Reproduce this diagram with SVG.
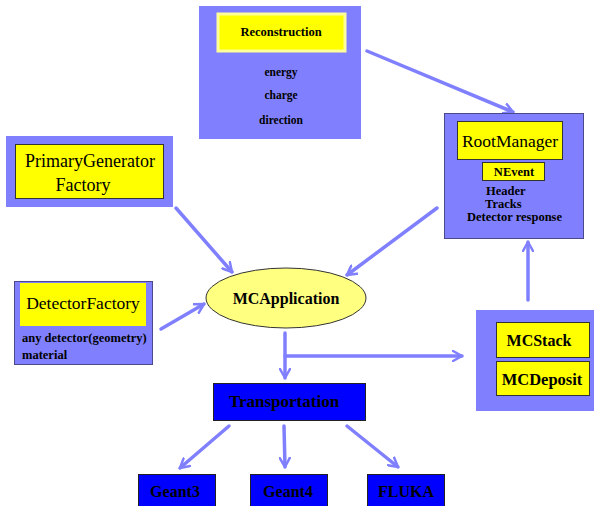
<svg xmlns="http://www.w3.org/2000/svg" width="594" height="506" viewBox="0 0 594 506">
<defs>
<style>
.outer{fill:#8080ff;stroke:#4a4a8c;stroke-width:1}
.outerL{fill:#8080ff;stroke:none}
.yel{fill:#ffff00;stroke:#333;stroke-width:1}
.yelL{fill:#ffff00;stroke:#ffff99;stroke-width:3}
.yelN{fill:#ffff00;stroke:none}
.blue{fill:#0000ff;stroke:#222;stroke-width:1}
.t{font-family:"Liberation Serif","Times New Roman",serif;font-weight:bold;fill:#000;text-anchor:middle}
.tl{font-family:"Liberation Serif","Times New Roman",serif;font-weight:bold;fill:#000}
.tn{font-family:"Liberation Serif","Times New Roman",serif;fill:#000;text-anchor:middle}
.c{stroke:#8080ff;stroke-width:3.5;fill:none;stroke-linecap:round}
</style>
<marker id="ah" viewBox="0 0 12 12" refX="10" refY="6" markerWidth="12" markerHeight="12" markerUnits="userSpaceOnUse" orient="auto">
<path d="M1,1 L10,6 L1,11" fill="none" stroke="#8080ff" stroke-width="2.5" stroke-linecap="round" stroke-linejoin="round"/>
</marker>
</defs>
<rect width="594" height="506" fill="#fff"/>

<g id="connectors">
<line class="c" x1="367" y1="51" x2="513" y2="112" marker-end="url(#ah)"/>
<line class="c" x1="437" y1="208" x2="347" y2="275" marker-end="url(#ah)"/>
<line class="c" x1="176" y1="208" x2="232" y2="272" marker-end="url(#ah)"/>
<line class="c" x1="161" y1="329" x2="204" y2="304" marker-end="url(#ah)"/>
<line class="c" x1="285" y1="333" x2="285" y2="378" marker-end="url(#ah)"/>
<line class="c" x1="285" y1="356" x2="462" y2="356" marker-end="url(#ah)"/>
<line class="c" x1="528" y1="300" x2="528" y2="242" marker-end="url(#ah)"/>
<line class="c" x1="229" y1="426" x2="180" y2="468" marker-end="url(#ah)"/>
<line class="c" x1="284" y1="426" x2="285" y2="467" marker-end="url(#ah)"/>
<line class="c" x1="347" y1="426" x2="398" y2="467" marker-end="url(#ah)"/>
</g>

<g id="reconstruction">
<rect class="outerL" x="199" y="6" width="162" height="133"/>
<rect class="yelL" x="218" y="14" width="127" height="37"/>
<text class="t" x="281" y="36" font-size="12.5">Reconstruction</text>
<text class="t" x="281" y="76" font-size="11.5">energy</text>
<text class="t" x="281" y="99" font-size="11.5">charge</text>
<text class="t" x="281" y="124" font-size="11.5">direction</text>
</g>

<g id="rootmanager">
<rect class="outer" x="444.5" y="113.5" width="139" height="125"/>
<rect class="yel" x="457.5" y="121.5" width="105" height="38"/>
<text class="tn" x="510" y="147" font-size="17.5">RootManager</text>
<rect class="yel" x="482.5" y="162.5" width="62" height="18"/>
<text class="t" x="514" y="176" font-size="12.5">NEvent</text>
<text class="tl" x="486" y="195" font-size="12.5">Header</text>
<text class="tl" x="485" y="208" font-size="12.5">Tracks</text>
<text class="tl" x="467" y="221" font-size="12.5">Detector response</text>
</g>

<g id="primarygenerator">
<rect class="outerL" x="6" y="136" width="167" height="71"/>
<rect class="yel" x="15.5" y="144.5" width="148" height="54" stroke="#777"/>
<text class="tn" x="90" y="167" font-size="18">PrimaryGenerator</text>
<text class="tn" x="83" y="191" font-size="18">Factory</text>
</g>

<g id="detectorfactory">
<rect class="outer" x="14.5" y="281.5" width="138" height="83"/>
<rect class="yelN" x="20" y="283" width="126" height="43"/>
<text class="tn" x="83" y="309" font-size="17.5">DetectorFactory</text>
<text class="tl" x="22" y="342" font-size="12.5">any detector(geometry)</text>
<text class="tl" x="22" y="359" font-size="12.5">material</text>
</g>

<g id="mcapplication">
<ellipse cx="286" cy="298" rx="80" ry="30" fill="#ffff80" stroke="#333" stroke-width="1"/>
<text class="t" x="286" y="304" font-size="16">MCApplication</text>
</g>

<g id="mcstack">
<rect class="outerL" x="476" y="310" width="118" height="101"/>
<rect class="yel" x="496.5" y="322.5" width="93" height="35"/>
<text class="t" x="539" y="346" font-size="16">MCStack</text>
<rect class="yel" x="496.5" y="361.5" width="93" height="34"/>
<text class="t" x="542" y="385" font-size="16.5">MCDeposit</text>
</g>

<g id="transportation">
<rect class="blue" x="213.5" y="383.5" width="152" height="37"/>
<text class="t" x="284" y="407" font-size="17">Transportation</text>
</g>

<g id="geant3">
<rect class="blue" x="138.5" y="474.5" width="77" height="33"/>
<text class="t" x="175" y="497" font-size="16">Geant3</text>
</g>
<g id="geant4">
<rect class="blue" x="250.5" y="474.5" width="77" height="33"/>
<text class="t" x="288" y="497" font-size="16">Geant4</text>
</g>
<g id="fluka">
<rect class="blue" x="367.5" y="474.5" width="77" height="33"/>
<text class="t" x="406" y="497" font-size="16">FLUKA</text>
</g>
</svg>
